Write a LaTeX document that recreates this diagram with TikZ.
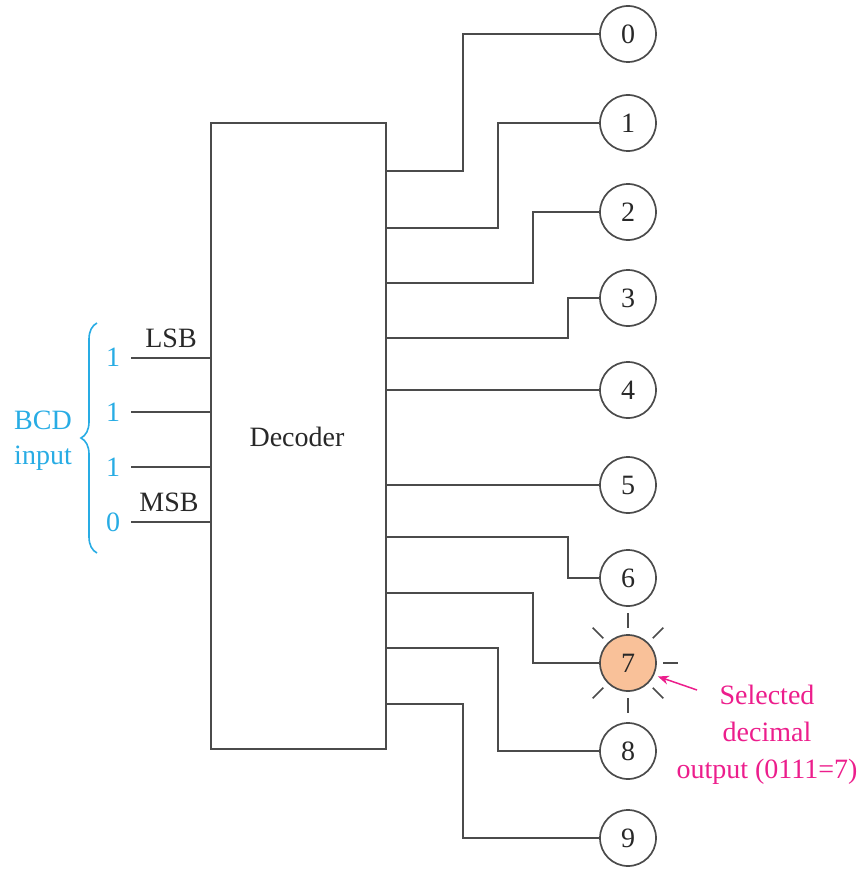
\documentclass[tikz,border=0pt]{standalone}
\usepackage{fontspec}
\setmainfont{Liberation Serif}
\usetikzlibrary{decorations.pathreplacing,arrows.meta,calc}
\definecolor{wire}{RGB}{75,75,75}
\definecolor{txt}{RGB}{40,40,40}
\definecolor{bcdcyan}{RGB}{40,172,228}
\definecolor{selmag}{RGB}{236,30,140}
\definecolor{litorange}{RGB}{249,193,153}
\begin{document}
\begin{tikzpicture}[x=1pt,y=-1pt,
  every node/.style={font=\fontsize{28}{30}\selectfont, text=txt},
  wire/.style={draw=wire, line width=1.9pt},
  outc/.style={circle, draw=wire, line width=1.7pt, minimum size=56pt, inner sep=0pt},
  ray/.style={draw=wire, line width=1.6pt},
  cyanlbl/.style={text=bcdcyan}]
\useasboundingbox (0,0) rectangle (861,869);
% decoder box
\node[draw=wire, line width=1.9pt, minimum width=175pt, minimum height=626pt, anchor=north west] (dec) at (210,122) {};
\node (declbl) at (297,437) {Decoder};
% output circles
\node[outc] (o0) at (628,34) {0};
\node[outc] (o1) at (628,123) {1};
\node[outc] (o2) at (628,212) {2};
\node[outc] (o3) at (628,298) {3};
\node[outc] (o4) at (628,390) {4};
\node[outc] (o5) at (628,485) {5};
\node[outc] (o6) at (628,578) {6};
\node[outc, fill=litorange] (o7) at (628,663) {7};
\node[outc] (o8) at (628,751) {8};
\node[outc] (o9) at (628,838) {9};
% box output points
\coordinate (b0) at (385,171);
\coordinate (b1) at (385,228);
\coordinate (b2) at (385,283);
\coordinate (b3) at (385,338);
\coordinate (b4) at (385,390);
\coordinate (b5) at (385,485);
\coordinate (b6) at (385,537);
\coordinate (b7) at (385,593);
\coordinate (b8) at (385,648);
\coordinate (b9) at (385,704);
\draw[wire] (b0) -| (463,34) -- (o0.west);
\draw[wire] (b1) -| (498,123) -- (o1.west);
\draw[wire] (b2) -| (533,212) -- (o2.west);
\draw[wire] (b3) -| (568,298) -- (o3.west);
\draw[wire] (b4) -- (o4.west);
\draw[wire] (b5) -- (o5.west);
\draw[wire] (b6) -| (568,578) -- (o6.west);
\draw[wire] (b7) -| (533,663) -- (o7.west);
\draw[wire] (b8) -| (498,751) -- (o8.west);
\draw[wire] (b9) -| (463,838) -- (o9.west);
% rays
\foreach \a in {0,45,90,135,225,270,315}
  \draw[ray] ($(o7.center)+(\a:35)$) -- ($(o7.center)+(\a:50)$);
% selected label
\node[text=selmag, align=center, font=\fontsize{28}{37}\selectfont] (sel) at (767,735) {Selected\\decimal\\output (0111=7)};
\coordinate (selarr) at (697,690);
\draw[selmag, line width=1.5pt, -{Stealth[length=11pt,width=9pt]}, shorten >=4pt] (selarr) -- (o7.-25);
% inputs
\coordinate (i0) at (131,358);
\coordinate (i1) at (131,412);
\coordinate (i2) at (131,467);
\coordinate (i3) at (131,522);
\foreach \k in {0,1,2,3}
  \draw[wire] (i\k) -- (dec.west |- i\k);
\node[cyanlbl] (v0) at (113,357) {1};
\node[cyanlbl] (v1) at (113,412) {1};
\node[cyanlbl] (v2) at (113,467) {1};
\node[cyanlbl] (v3) at (113,522) {0};
\node (lsb) at (171,338) {LSB};
\node (msb) at (169,502) {MSB};
\node[cyanlbl] (bcd) at (43,420) {BCD};
\node[cyanlbl] (inp) at (43,458) {input};
\draw[bcdcyan, line width=1.6pt, decorate, decoration={brace, amplitude=16pt}] (97,553) -- (97,323);
\end{tikzpicture}
\end{document}
